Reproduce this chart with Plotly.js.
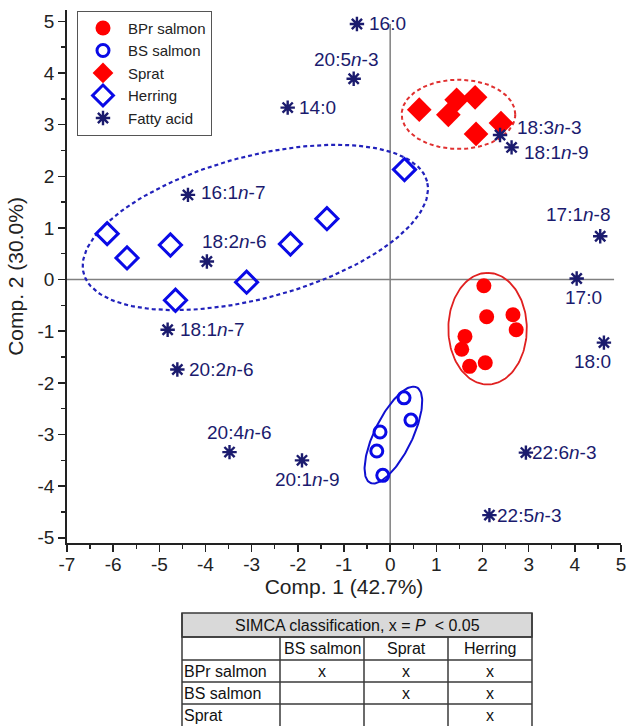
<!DOCTYPE html>
<html>
<head>
<meta charset="utf-8">
<script src="https://cdn.plot.ly/plotly-3.0.1.min.js"></script>
<style>html,body{margin:0;padding:0;background:#fff;}</style>
</head>
<body>
<div id="chart" style="width:627px;height:726px;"></div>
<script>
// ---------- data ----------
const bprX = [2.03, 2.09, 2.66, 2.73, 1.62, 1.55, 1.72, 2.06];
const bprY = [-0.12, -0.72, -0.68, -0.97, -1.10, -1.35, -1.68, -1.61];

const bsX = [0.30, 0.45, -0.22, -0.29, -0.16];
const bsY = [-2.29, -2.72, -2.95, -3.32, -3.79];

const spratX = [0.63, 1.26, 1.44, 1.84, 1.86, 2.40];
const spratY = [3.29, 3.19, 3.48, 3.53, 2.82, 3.03];

const herringX = [-6.13, -5.70, -4.76, -4.65, -3.11, -2.16, -1.37, 0.31];
const herringY = [0.89, 0.42, 0.67, -0.40, -0.05, 0.69, 1.18, 2.13];

const faNames = ['16:0', '20:5<i>n</i>-3', '14:0', '18:3<i>n</i>-3', '18:1<i>n</i>-9',
  '16:1<i>n</i>-7', '18:2<i>n</i>-6', '18:1<i>n</i>-7', '17:1<i>n</i>-8', '17:0', '18:0',
  '20:2<i>n</i>-6', '20:4<i>n</i>-6', '20:1<i>n</i>-9', '22:6<i>n</i>-3', '22:5<i>n</i>-3'];
const faX = [-0.72, -0.79, -2.22, 2.38, 2.63, -4.38, -3.97, -4.82, 4.55, 4.04, 4.63, -4.61, -3.48, -1.91, 2.94, 2.15];
const faY = [4.95, 3.89, 3.33, 2.80, 2.56, 1.64, 0.35, -0.97, 0.84, 0.02, -1.22, -1.74, -3.34, -3.50, -3.35, -4.56];

// group ellipses: centre (x,y), semi-axes (in x-axis units), rotation (deg)
const ellSprat   = [1.48, 3.20, 1.23, 0.75, 0];
const ellHerring = [-2.92, 1.01, 3.85, 1.54, 15];
const ellBPr     = [2.11, -0.95, 1.21, 0.85, 90];
const ellBS      = [0.07, -3.01, 1.15, 0.41, 64];

const xTickVals = [-7, -6, -5, -4, -3, -2, -1, 0, 1, 2, 3, 4, 5];
const xTickText = ['-7', '-6', '-5', '-4', '-3', '-2', '-1', '0', '1', '2', '3', '4', '5'];
const yTickVals = [-5, -4, -3, -2, -1, 0, 1, 2, 3, 4, 5];
const yTickText = ['-5', '-4', '-3', '-2', '-1', '0', '1', '2', '3', '4', '5'];

const tableTitle = 'SIMCA classification, x = <i>P</i>  < 0.05';
const tableCols = ['BS salmon', 'Sprat', 'Herring'];
const tableRows = ['BPr salmon', 'BS salmon', 'Sprat'];
const tableMarks = [['x', 'x', 'x'], ['', 'x', 'x'], ['', '', 'x']];

// ---------- layout geometry ----------
const W = 627, H = 726;
const M = {l: 67, r: 6, t: 10, b: 183};
const PW = W - M.l - M.r, PH = H - M.t - M.b;
const xRange = [-7, 5], yRange = [-5.1, 5.22];
const aspect = (PW / (xRange[1] - xRange[0])) / (PH / (yRange[1] - yRange[0]));

// label placement for fatty-acid names (anchor, x shift px, y shift px)
const faAnchor = ['left', 'center', 'left', 'left', 'left', 'left', 'center', 'left',
  'center', 'center', 'center', 'left', 'center', 'center', 'left', 'left'];
const faDx = [10, -8, 9, 15, 10, 11, 27, 10, -22, 7, -11, 10, 9, 5, 4, 6];
const faDy = [0, 19, 0, 7, -5, 2, 20, 0, 22, -19, -19, 0, 20, -19, 0, 0];

function ellipse(p) {
  const [cx, cy, a, b, ang] = p;
  const th = ang * Math.PI / 180;
  const xs = [], ys = [];
  for (let i = 0; i <= 160; i++) {
    const t = 2 * Math.PI * i / 160;
    const u = a * Math.cos(t), v = b * Math.sin(t);
    xs.push(cx + u * Math.cos(th) - v * Math.sin(th));
    ys.push(cy + (u * Math.sin(th) + v * Math.cos(th)) * aspect);
  }
  return {xs, ys};
}

const NAVY = '#1b1b6e';
const RED = '#ff0000';
const BLUE = '#0a0ae6';
const SANS = 'Liberation Sans, Arial, sans-serif';

function ellTrace(p, color, dash, width) {
  const e = ellipse(p);
  return {x: e.xs, y: e.ys, mode: 'lines', type: 'scatter', showlegend: false, hoverinfo: 'skip',
    line: {color: color, dash: dash, width: width}};
}

const traces = [
  ellTrace(ellSprat, '#e03030', '4px,3px', 2),
  ellTrace(ellHerring, '#2222bb', '4px,3px', 2.2),
  ellTrace(ellBPr, '#e02020', 'solid', 1.8),
  ellTrace(ellBS, '#1010d0', 'solid', 2),
  {x: bprX, y: bprY, name: 'BPr salmon', type: 'scatter', mode: 'markers',
    marker: {symbol: 'circle', size: 15, color: RED, line: {width: 0}}},
  {x: bsX, y: bsY, name: 'BS salmon', type: 'scatter', mode: 'markers',
    marker: {symbol: 'circle-open', size: 12, color: BLUE, line: {width: 3, color: BLUE}}},
  {x: spratX, y: spratY, name: 'Sprat', type: 'scatter', mode: 'markers',
    marker: {symbol: 'diamond', size: 19, color: RED, line: {width: 0}}},
  {x: herringX, y: herringY, name: 'Herring', type: 'scatter', mode: 'markers',
    marker: {symbol: 'diamond-open', size: 17, color: BLUE, line: {width: 3, color: BLUE}}},
  {x: faX, y: faY, name: 'Fatty acid', type: 'scatter', mode: 'markers',
    marker: {symbol: 'asterisk-open', size: 12, color: NAVY, line: {width: 2.4, color: NAVY}}}
];

// ---------- table (shapes + annotations in paper coords) ----------
const pxX = px => (px - M.l) / PW;
const pxY = py => (M.t + PH - py) / PH;
const colEdges = [182, 280, 364, 448, 532];
const rowEdges = [613, 637, 660, 682, 704, 727];
const TB = '#3a3a3a';
const shapes = [
  {type: 'line', xref: 'x', yref: 'y', x0: 0, x1: 0, y0: yRange[0], y1: 4.95, layer: 'below',
    line: {color: '#808080', width: 1.5}},
  {type: 'line', xref: 'x', yref: 'y', x0: xRange[0], x1: 4.85, y0: 0, y1: 0, layer: 'below',
    line: {color: '#808080', width: 1.5}},
  {type: 'rect', xref: 'paper', yref: 'paper', x0: pxX(colEdges[0]), x1: pxX(colEdges[4]),
    y0: pxY(rowEdges[1]), y1: pxY(rowEdges[0]), fillcolor: '#d9d9d9', line: {color: TB, width: 1.5}}
];
for (let r = 1; r < rowEdges.length - 1; r++) {
  shapes.push({type: 'line', xref: 'paper', yref: 'paper', x0: pxX(colEdges[0]), x1: pxX(colEdges[4]),
    y0: pxY(rowEdges[r]), y1: pxY(rowEdges[r]), line: {color: TB, width: 1.5}});
}
for (let c = 0; c < colEdges.length; c++) {
  const top = (c === 0 || c === colEdges.length - 1) ? rowEdges[0] : rowEdges[1];
  shapes.push({type: 'line', xref: 'paper', yref: 'paper', x0: pxX(colEdges[c]), x1: pxX(colEdges[c]),
    y0: pxY(top), y1: pxY(rowEdges[rowEdges.length - 1]), line: {color: TB, width: 1.5}});
}
const TF = {family: SANS, size: 16, color: '#111'};
const annotations = [];
// fatty-acid labels
faNames.forEach((t, i) => annotations.push({xref: 'x', yref: 'y', x: faX[i], y: faY[i], text: t,
  showarrow: false, xanchor: faAnchor[i], yanchor: 'middle', xshift: faDx[i], yshift: faDy[i],
  font: {family: SANS, size: 19, color: NAVY}}));
const midY = r => pxY((rowEdges[r] + rowEdges[r + 1]) / 2);
const midX = c => pxX((colEdges[c] + colEdges[c + 1]) / 2);
annotations.push({xref: 'paper', yref: 'paper', x: pxX((colEdges[0] + colEdges[4]) / 2), y: midY(0),
  text: tableTitle, showarrow: false, font: TF, xanchor: 'center', yanchor: 'middle'});
tableCols.forEach((t, i) => annotations.push({xref: 'paper', yref: 'paper', x: midX(i + 1), y: midY(1),
  text: t, showarrow: false, font: TF, xanchor: 'center', yanchor: 'middle'}));
tableRows.forEach((t, r) => {
  annotations.push({xref: 'paper', yref: 'paper', x: pxX(colEdges[0]), y: midY(r + 2),
    text: t, showarrow: false, font: TF, xanchor: 'left', yanchor: 'middle'});
  tableMarks[r].forEach((m, c) => {
    if (m) annotations.push({xref: 'paper', yref: 'paper', x: midX(c + 1), y: midY(r + 2),
      text: m, showarrow: false, font: TF, xanchor: 'center', yanchor: 'middle'});
  });
});

const axisFont = {family: SANS, size: 19, color: '#222'};
const titleFont = {family: SANS, size: 21, color: '#222'};
const minorTicks = {tickmode: 'linear', tick0: 0, dtick: 0.5, ticks: 'outside', ticklen: 4, tickwidth: 1.4, tickcolor: '#222', showgrid: false};
const layout = {
  width: W, height: H,
  margin: M,
  paper_bgcolor: '#fff', plot_bgcolor: '#fff',
  font: {family: SANS, color: '#222'},
  showlegend: true,
  legend: {x: pxX(77), y: pxY(10.7), xanchor: 'left', yanchor: 'top', bgcolor: '#fff',
    bordercolor: '#555', borderwidth: 1, font: {family: SANS, size: 15, color: '#222'},
    tracegroupgap: 0, itemwidth: 40},
  xaxis: {range: xRange, tickmode: 'array', tickvals: xTickVals, ticktext: xTickText,
    ticks: 'outside', ticklen: 7, tickwidth: 1.6, tickcolor: '#222', ticklabelstandoff: -4,
    showline: true, linecolor: '#222', linewidth: 1.8, showgrid: false, zeroline: false,
    tickfont: axisFont, minor: minorTicks,
    title: {text: 'Comp. 1 (42.7%)', font: titleFont, standoff: 0}},
  yaxis: {range: yRange, tickmode: 'array', tickvals: yTickVals, ticktext: yTickText,
    ticks: 'outside', ticklen: 7, tickwidth: 1.6, tickcolor: '#222',
    showline: true, linecolor: '#222', linewidth: 1.8, showgrid: false, zeroline: false,
    tickfont: axisFont, minor: minorTicks,
    title: {text: 'Comp. 2 (30.0%)', font: titleFont, standoff: 8}},
  shapes: shapes,
  annotations: annotations
};

Plotly.newPlot('chart', traces, layout, {displayModeBar: false, staticPlot: true});
</script>
</body>
</html>
